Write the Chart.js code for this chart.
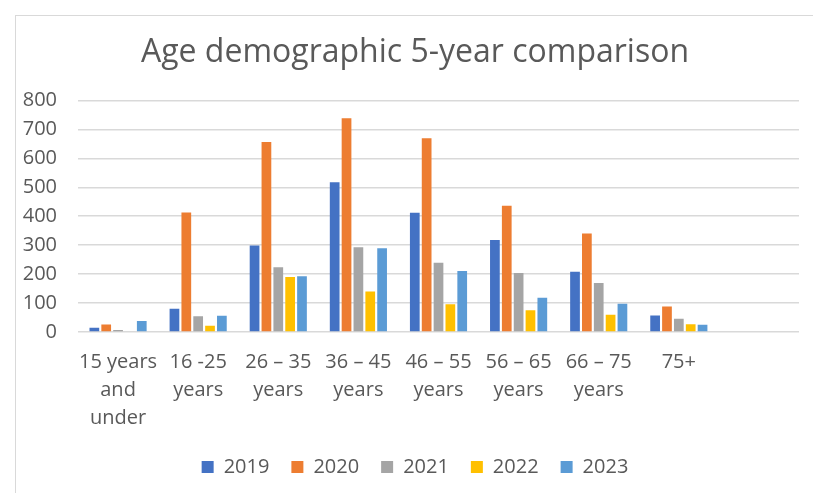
<!DOCTYPE html>
<html>
<head>
    <meta charset="utf-8" />
    <title>Age demographic 5-year comparison</title>
    <script src="https://cdn.jsdelivr.net/npm/chart.js@4"></script>
    <style>
      html, body { margin: 0; padding: 0; background: #fff; overflow: hidden; }
      #frame { position: absolute; left: 15px; top: 15px; width: 900px; height: 600px;
               border: 1px solid #d9d9d9; box-sizing: border-box; }
      #wrap { position: absolute; left: 0; top: 0; width: 813px; height: 493px; }
    </style>
</head>
<body>
    <div id="frame"></div>
    <div id="wrap"><canvas id="chart-age"></canvas></div>

    <script>
      // 카테고리 (마지막 칸은 원본처럼 비어 있음)
      var ageGroups = [
        ["15 years", "and", "under"],
        ["16 -25", "years"],
        ["26 \u2013 35", "years"],
        ["36 \u2013 45", "years"],
        ["46 \u2013 55", "years"],
        ["56 \u2013 65", "years"],
        ["66 \u2013 75", "years"],
        "75+",
        ""
      ];

      // 연도별 값
      var y2019 = [15, 80, 299, 517, 412, 318, 208, 57, null];
      var y2020 = [26, 413, 656, 738, 669, 436, 340, 88, null];
      var y2021 = [7, 54, 224, 293, 239, 204, 169, 46, null];
      var y2022 = [0, 22, 190, 140, 96, 75, 60, 27, null];
      var y2023 = [38, 56, 193, 289, 211, 118, 98, 25, null];

      var yTicks = [0, 100, 200, 300, 400, 500, 600, 700, 800];

      var textColor = "#595959";
      var font = "'Open Sans', sans-serif";

      function ds(label, data, color) {
        return {
          label: label,
          data: data,
          backgroundColor: color,
          borderWidth: 0,
          categoryPercentage: 0.74,
          barPercentage: 0.82
        };
      }

      // 제목과 범례를 원본처럼 약간 오른쪽으로 옮김
      var shiftBlocks = {
        id: "shiftBlocks",
        afterLayout: function (chart) {
          [chart.titleBlock, chart.legend].forEach(function (b) {
            if (b) { b.left += 14; b.right += 14; }
          });
        }
      };

      var ctx = document.getElementById("chart-age").getContext("2d");
      new Chart(ctx, {
        type: "bar",
        data: {
          labels: ageGroups,
          datasets: [
            ds("2019", y2019, "#4472c4"),
            ds("2020", y2020, "#ed7d31"),
            ds("2021", y2021, "#a5a5a5"),
            ds("2022", y2022, "#ffc000"),
            ds("2023", y2023, "#5b9bd5")
          ]
        },
        plugins: [shiftBlocks],
        options: {
          responsive: true,
          maintainAspectRatio: false,
          animation: false,
          layout: { padding: { left: 3, right: 14, top: 34, bottom: 6 } },
          plugins: {
            title: {
              display: true,
              text: "Age demographic 5-year comparison",
              color: textColor,
              font: { family: font, size: 32, weight: "normal" },
              padding: { top: 0, bottom: 28 }
            },
            legend: {
              position: "bottom",
              labels: {
                color: textColor,
                font: { family: font, size: 20 },
                boxWidth: 12,
                boxHeight: 12,
                padding: 22
              }
            },
            tooltip: { enabled: false }
          },
          scales: {
            x: {
              grid: { display: false, drawTicks: false },
              border: { display: false },
              ticks: {
                color: textColor,
                font: { family: font, size: 20, lineHeight: 1.4 },
                maxRotation: 0,
                autoSkip: false,
                padding: 16
              },
              // 라벨이 범례 쪽으로 조금 내려가도록 축 높이를 줄임
              afterFit: function (scale) { scale.height -= 13; }
            },
            y: {
              min: 0,
              max: 800,
              afterBuildTicks: function (axis) {
                axis.ticks = yTicks.map(function (v) { return { value: v }; });
              },
              afterFit: function (scale) { scale.width = 75; },
              grid: { color: "#d9d9d9", lineWidth: 1.5, drawTicks: false },
              border: { display: false },
              ticks: {
                color: textColor,
                font: { family: font, size: 20 },
                padding: 21
              }
            }
          }
        }
      });
    </script>
</body>
</html>
